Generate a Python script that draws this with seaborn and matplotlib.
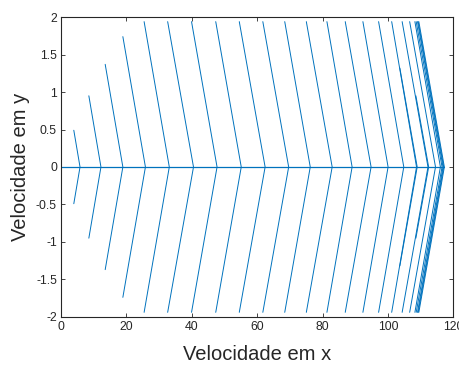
import numpy as np
import pandas as pd
import matplotlib
matplotlib.use("Agg")
import matplotlib.pyplot as plt
import seaborn as sns

# chevron vertices on y = 0, tip heights (+/-) and tip x positions
vertex_x = [5.8, 12.2, 18.9, 25.8, 33.1, 40.5, 47.7, 55.1, 62.4, 69.6, 76.2,
            82.9, 89.0, 94.8, 100.0, 104.8, 108.7, 112.2, 114.5, 116.0, 116.5,
            116.8, 117.0, 117.2, 108.9, 112.4]
tip_h = [0.49, 0.95, 1.37, 1.74, 1.94, 1.94, 1.94, 1.94, 1.94, 1.94, 1.94,
         1.94, 1.94, 1.94, 1.94, 1.94, 1.94, 1.94, 1.94, 1.94, 1.94,
         1.94, 1.94, 1.94, 1.32, 0.95]
tip_x = [3.9, 8.5, 13.5, 18.9, 25.4, 32.6, 39.9, 47.3, 54.5, 61.7, 68.4,
         75.0, 81.3, 86.9, 92.3, 97.1, 101.1, 104.3, 106.6, 108.2, 108.6,
         109.0, 109.2, 109.4, 103.6, 108.5]

# horizontal line along vy = 0
axis_x = [0.0, 117.2]
axis_y = [0.0, 0.0]

rows = []
for i, (vx, h, tx) in enumerate(zip(vertex_x, tip_h, tip_x)):
    rows.append({"id": i, "order": 0, "x": tx, "y": h})
    rows.append({"id": i, "order": 1, "x": vx, "y": 0.0})
    rows.append({"id": i, "order": 2, "x": tx, "y": -h})
df = pd.DataFrame(rows)

sns.set_theme(style="ticks")
plt.rcParams["font.family"] = ["Liberation Sans", "DejaVu Sans"]

fig = plt.figure(figsize=(4.59, 3.65), dpi=100)
ax = fig.add_axes([0.133, 0.132, 0.855, 0.821])

blue = "#0072BD"
sns.lineplot(data=df, x="x", y="y", units="id", estimator=None, sort=False,
             color=blue, linewidth=0.7, ax=ax)
sns.lineplot(x=axis_x, y=axis_y, color=blue, linewidth=0.9, ax=ax)

ax.set_xlim(0, 120)
ax.set_ylim(-2, 2)
ax.set_xticks(np.arange(0, 121, 20))
ax.set_yticks(np.arange(-2, 2.01, 0.5))
ax.set_yticklabels(["-2", "-1.5", "-1", "-0.5", "0", "0.5", "1", "1.5", "2"])

for side in ["top", "right", "left", "bottom"]:
    ax.spines[side].set_visible(True)
    ax.spines[side].set_color("#262626")
    ax.spines[side].set_linewidth(0.8)
ax.tick_params(direction="in", length=3, width=0.6, top=True, right=True,
               labelsize=8.8, colors="#262626", pad=3)

ax.set_xlabel("Velocidade em x", fontsize=14.5, color="#262626", labelpad=9)
ax.set_ylabel("Velocidade em y", fontsize=14.5, color="#262626", labelpad=4)

fig.savefig("out.png", dpi=100)
